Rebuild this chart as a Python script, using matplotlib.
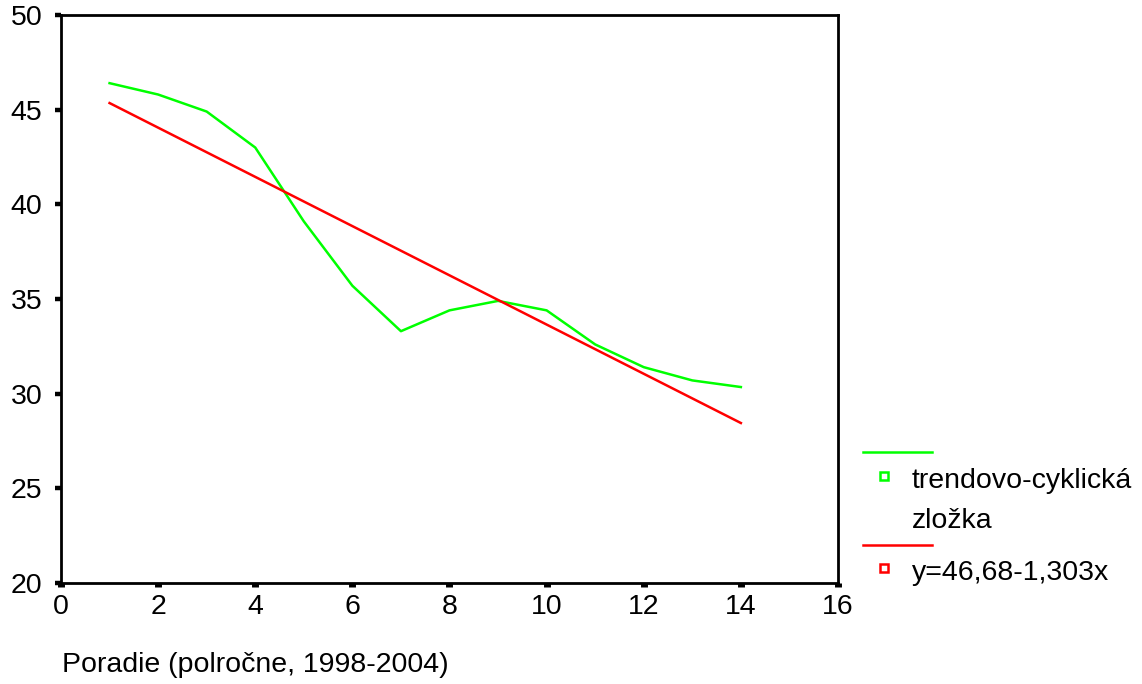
import matplotlib
matplotlib.use("Agg")
import matplotlib.pyplot as plt
from matplotlib.lines import Line2D

plt.rcParams['font.family'] = ['Liberation Sans', 'DejaVu Sans']

x_green = [1, 2, 3, 4, 5, 6, 7, 8, 9, 10, 11, 12, 13, 14]
y_green = [46.4, 45.8, 44.9, 43.0, 39.1, 35.7, 33.3, 34.4, 34.9, 34.4, 32.6, 31.4, 30.7, 30.35]
x_red = [1, 14]
y_red = [45.35, 28.45]
xticks = [0, 2, 4, 6, 8, 10, 12, 14, 16]
yticks = [20, 25, 30, 35, 40, 45, 50]
legend_labels = ["trendovo-cyklická\nzložka", "y=46,68-1,303x"]
xlabel = "Poradie (polročne, 1998-2004)"

FS = 20.5
fig = plt.figure(figsize=(11.42, 6.84), dpi=100)
ax = fig.add_axes([61/1142, 1-583/684, (838-61)/1142, (583-15)/684])
ax.plot(x_green, y_green, color='#00ff00', lw=1.8)
ax.plot(x_red, y_red, color='#ff0000', lw=1.8)
ax.set_xlim(0, 16)
ax.set_ylim(20, 50)
ax.set_xticks(xticks)
ax.set_yticks(yticks)
ax.tick_params(axis='x', direction='out', length=3, width=5, pad=5, labelsize=FS, color='black')
ax.tick_params(axis='y', direction='out', length=4.5, width=3.2, pad=9, labelsize=FS, color='black')
for s in ax.spines.values():
    s.set_linewidth(2)

fig.text(62/1142, 1-665/684, xlabel, fontsize=FS, ha='left', va='center')

# legend
fig.add_artist(Line2D([863/1142, 932/1142], [1-452/684, 1-452/684], color='#00ff00', lw=1.8))
fig.add_artist(Line2D([884/1142], [1-476/684], marker='s', markersize=6, mfc='white', mec='#00ff00', mew=1.8, ls='none'))
fig.text(912/1142, 1-481/684, "trendovo-cyklická", fontsize=FS, ha='left', va='center')
fig.text(912/1142, 1-521/684, "zložka", fontsize=FS, ha='left', va='center')
fig.add_artist(Line2D([863/1142, 932/1142], [1-545/684, 1-545/684], color='#ff0000', lw=1.8))
fig.add_artist(Line2D([884/1142], [1-568/684], marker='s', markersize=6, mfc='white', mec='#ff0000', mew=1.8, ls='none'))
fig.text(912/1142, 1-573/684, legend_labels[1], fontsize=FS, ha='left', va='center')

fig.savefig("out.png", dpi=100)
